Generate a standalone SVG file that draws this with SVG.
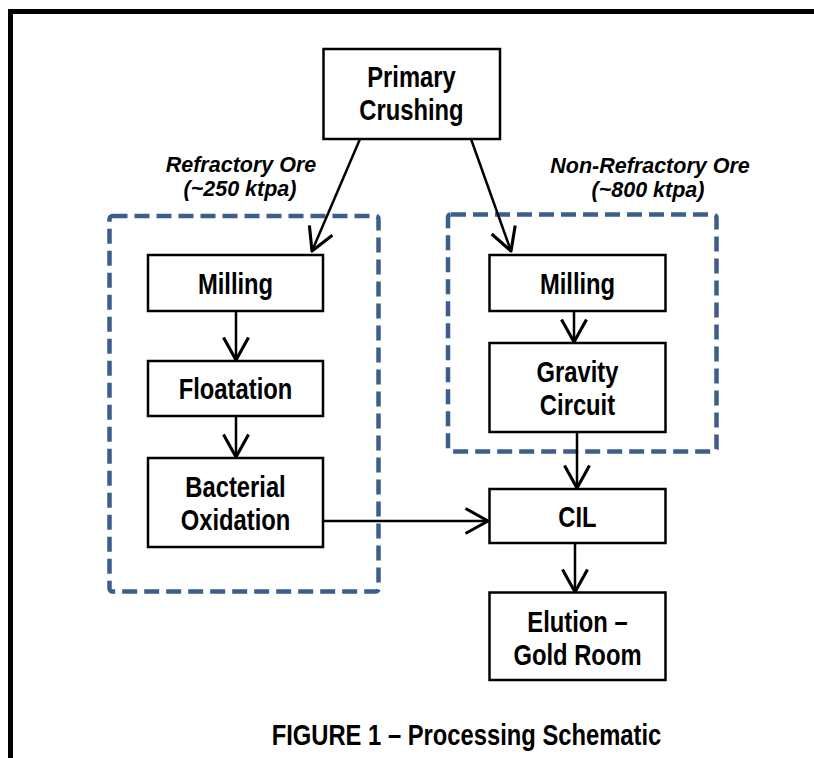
<svg xmlns="http://www.w3.org/2000/svg" width="814" height="758" viewBox="0 0 814 758">
<defs>
<style>
.box{fill:#fff;stroke:#000;stroke-width:2.5}
.t{font-family:"Liberation Sans",Arial,sans-serif;font-weight:bold;font-size:29px;text-anchor:middle;fill:#000}
.lbl{font-family:"Liberation Sans",Arial,sans-serif;font-weight:bold;font-style:italic;font-size:21.5px;text-anchor:middle;fill:#000}
.grp{fill:none;stroke:#3B5E8C;stroke-width:4.5;stroke-dasharray:15 7}
.c{fill:none;stroke:#000;stroke-width:2.5}
</style>
<marker id="ah" markerUnits="userSpaceOnUse" markerWidth="30" markerHeight="30" viewBox="-20 -12 22 24" refX="0" refY="0" orient="auto">
<path d="M-18,-10 L0,0 L-18,10" fill="none" stroke="#000" stroke-width="2.5" stroke-linejoin="round"/>
</marker>
</defs>
<rect x="10.5" y="11.5" width="900" height="900" fill="none" stroke="#000" stroke-width="5"/>
<g id="group-refractory">
<rect class="grp" x="109.5" y="216" width="269" height="375.5" rx="3"/>
<text class="lbl" x="241" y="172">Refractory Ore</text>
<text class="lbl" x="240" y="196">(~250 ktpa)</text>
</g>
<g id="group-nonrefractory">
<rect class="grp" x="448" y="214.5" width="268.5" height="237" rx="3"/>
<text class="lbl" x="650" y="172.5">Non-Refractory Ore</text>
<text class="lbl" x="648" y="197">(~800 ktpa)</text>
</g>
<g id="connectors">
<line class="c" x1="360" y1="139" x2="312" y2="251" marker-end="url(#ah)"/>
<line class="c" x1="471" y1="139" x2="511" y2="251" marker-end="url(#ah)"/>
<line class="c" x1="236" y1="311" x2="236" y2="360" marker-end="url(#ah)"/>
<line class="c" x1="236" y1="416" x2="236" y2="457" marker-end="url(#ah)"/>
<line class="c" x1="323" y1="521" x2="488" y2="521" marker-end="url(#ah)"/>
<line class="c" x1="574" y1="311" x2="574" y2="342" marker-end="url(#ah)"/>
<line class="c" x1="577" y1="432" x2="577" y2="488" marker-end="url(#ah)"/>
<line class="c" x1="575" y1="543" x2="575" y2="592" marker-end="url(#ah)"/>
</g>
<g id="primary-crushing">
<rect class="box" x="323.5" y="49" width="176.5" height="90"/>
<text class="t" transform="translate(411.5,87) scale(0.82,1)">Primary</text>
<text class="t" transform="translate(411.5,120) scale(0.82,1)">Crushing</text>
</g>
<g id="milling-left">
<rect class="box" x="148" y="255" width="175" height="56"/>
<text class="t" transform="translate(235.5,293.5) scale(0.82,1)">Milling</text>
</g>
<g id="floatation">
<rect class="box" x="148" y="361" width="175" height="55"/>
<text class="t" transform="translate(235.5,399) scale(0.82,1)">Floatation</text>
</g>
<g id="bacterial-oxidation">
<rect class="box" x="148" y="458" width="175" height="89"/>
<text class="t" transform="translate(235.5,497) scale(0.82,1)">Bacterial</text>
<text class="t" transform="translate(235.5,530) scale(0.82,1)">Oxidation</text>
</g>
<g id="milling-right">
<rect class="box" x="489.5" y="255" width="176" height="56"/>
<text class="t" transform="translate(577.5,293.5) scale(0.82,1)">Milling</text>
</g>
<g id="gravity-circuit">
<rect class="box" x="489.5" y="343" width="176" height="89"/>
<text class="t" transform="translate(577.5,382) scale(0.82,1)">Gravity</text>
<text class="t" transform="translate(577.5,415) scale(0.82,1)">Circuit</text>
</g>
<g id="cil">
<rect class="box" x="489.5" y="489" width="176" height="54"/>
<text class="t" transform="translate(577.5,527) scale(0.82,1)">CIL</text>
</g>
<g id="elution">
<rect class="box" x="489.5" y="592.5" width="176" height="87.5"/>
<text class="t" transform="translate(577.5,632) scale(0.82,1)">Elution –</text>
<text class="t" transform="translate(577.5,665) scale(0.82,1)">Gold Room</text>
</g>
<text class="t" transform="translate(466.5,744.5) scale(0.82,1)">FIGURE 1 – Processing Schematic</text>
</svg>
